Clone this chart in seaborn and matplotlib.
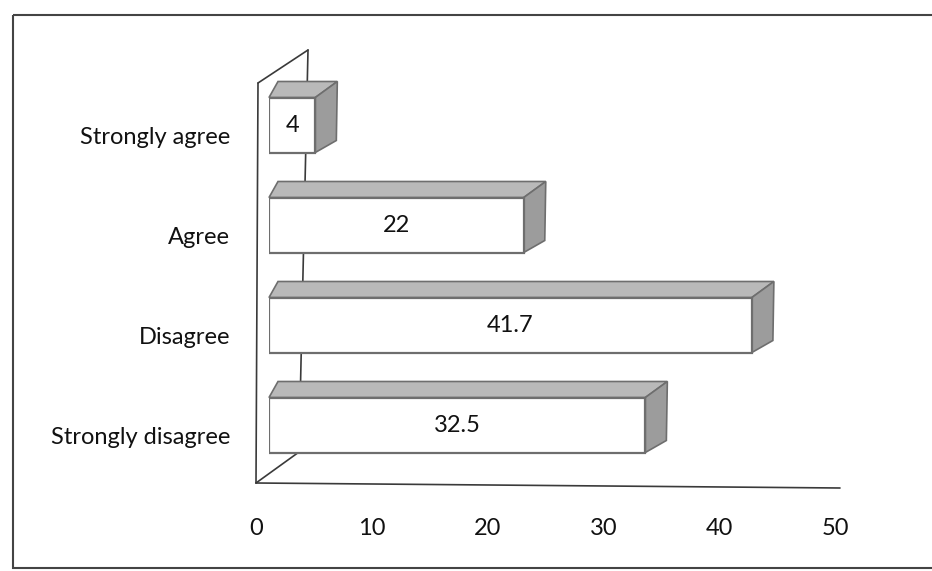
import matplotlib
matplotlib.use("Agg")
import matplotlib.pyplot as plt
import matplotlib.transforms as mtransforms
from matplotlib.patches import Polygon, Rectangle
from matplotlib.lines import Line2D
import seaborn as sns
import pandas as pd

# Survey responses (percent)
categories = ["Strongly agree", "Agree", "Disagree", "Strongly disagree"]
values = [4, 22, 41.7, 32.5]
value_labels = ["4", "22", "41.7", "32.5"]
x_ticks = [0, 10, 20, 30, 40, 50]

sns.set_theme(style="white")
plt.rcParams["font.family"] = ["Lato", "DejaVu Sans"]

W, H, DPI = 932, 571, 100
FS = 17
fig = plt.figure(figsize=(W / DPI, H / DPI), dpi=DPI, facecolor="white")

# Axes in pixel terms: bar plane spans x 269..848 px, rows 75..475 px from top
ax = fig.add_axes([269 / W, (H - 475) / H, 579 / W, 400 / H])
ax.set_facecolor("none")

df = pd.DataFrame({"category": categories, "value": values})
sns.barplot(data=df, x="value", y="category", orient="h", order=categories,
            width=0.55, color="white", saturation=1, edgecolor="#6e6e6e",
            linewidth=1.6, ax=ax)
bars = list(ax.patches[:len(values)])
for b in bars:
    b.set_zorder(4)

ax.set_xlim(0, 50)
ax.set_ylim(3.5, -0.5)
ax.set_xlabel("")
ax.set_ylabel("")
ax.set_xticks(x_ticks)
ax.set_xticklabels([str(t) for t in x_ticks])
for s in ax.spines.values():
    s.set_visible(False)
ax.tick_params(axis="both", length=0, labelsize=FS, colors="#111111")
ax.tick_params(axis="x", pad=31)
ax.tick_params(axis="y", pad=28)

# Tick labels sit on the front plane, shifted from the bar plane
px = 1.0 / DPI
for lab in ax.get_xticklabels():
    lab.set_transform(lab.get_transform() +
                      mtransforms.ScaledTranslation(-13 * px, 0, fig.dpi_scale_trans))
for lab in ax.get_yticklabels():
    lab.set_transform(lab.get_transform() +
                      mtransforms.ScaledTranslation(0, -10 * px, fig.dpi_scale_trans))

# Pixel (top-left origin) -> display transform
to_disp = mtransforms.Affine2D().scale(1, -1).translate(0, H)

def pix(pt):
    x, y = ax.transData.transform(pt)
    return x, H - y

# Wall and floor outlines, derived from the axes corners
x0p, ytop = pix((0, -0.5))
_, ybot = pix((0, 3.5))
x50p, _ = pix((50, 3.5))
front_tl = (x0p - 11, ytop + 8)
front_bl = (x0p - 13, ybot + 8)
front_br = (x50p - 8, ybot + 13)
back_tl = (x0p + 39, ytop - 25)
back_bl = (x0p + 30, ybot - 23)
wall_color = "#3a3a3a"
for a, b in [(front_bl, front_tl), (front_tl, back_tl), (back_tl, back_bl),
             (front_bl, back_bl), (front_bl, front_br)]:
    ax.add_line(Line2D([a[0], b[0]], [a[1], b[1]], transform=to_disp,
                       color=wall_color, lw=1.2, zorder=1, clip_on=False))

# 3-D faces (top and side) for each bar, built from the drawn bar rectangles
for patch, lab in zip(bars, value_labels):
    bx, by = patch.get_x(), patch.get_y()
    bw, bh = patch.get_width(), patch.get_height()
    xl, yt = pix((bx, by))
    xr, yb = pix((bx + bw, by + bh))
    top = [(xl, yt), (xr, yt), (xr + 22, yt - 16), (xl + 9, yt - 16)]
    side = [(xr, yt), (xr + 22, yt - 16), (xr + 21, yb - 12), (xr, yb)]
    ax.add_patch(Polygon(top, closed=True, transform=to_disp, facecolor="#b9b9b9",
                         edgecolor="#6e6e6e", lw=1.2, zorder=3, clip_on=False))
    ax.add_patch(Polygon(side, closed=True, transform=to_disp, facecolor="#9c9c9c",
                         edgecolor="#6e6e6e", lw=1.2, zorder=3, clip_on=False))
    ax.text(bx + bw / 2, by + bh / 2, lab, ha="center", va="center",
            fontsize=FS, color="#111111", zorder=5)

# Chart frame
fig.add_artist(Rectangle((13, 15), 940 - 13, 568 - 15, transform=to_disp,
                         fill=False, edgecolor="#444444", lw=1.5, zorder=0))

fig.savefig("out.png", dpi=DPI, facecolor="white")
